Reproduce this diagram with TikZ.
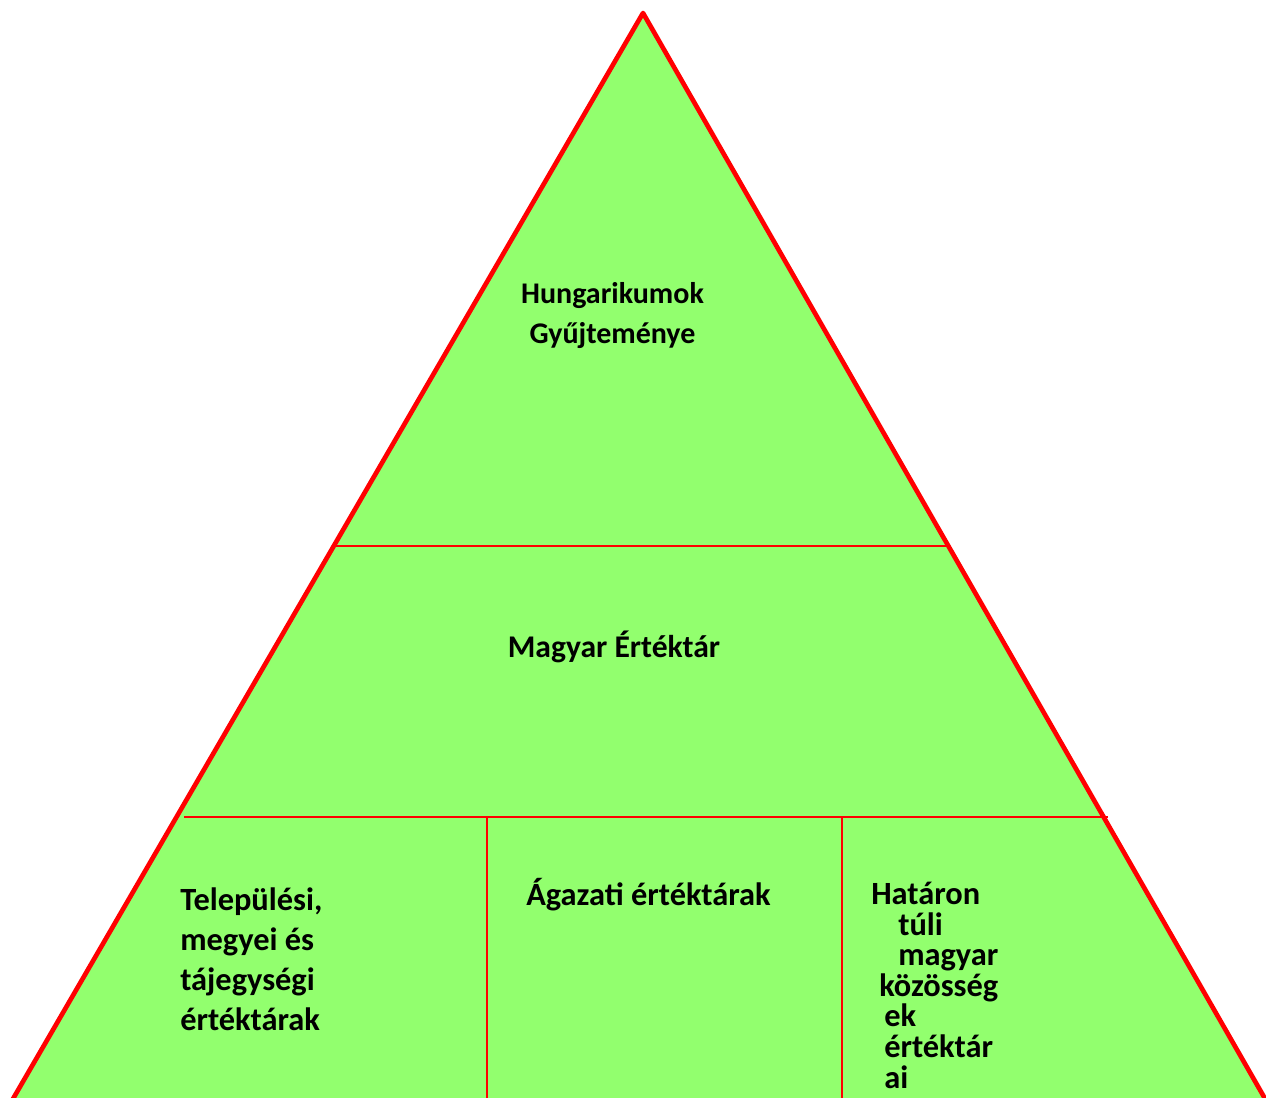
\documentclass[tikz,border=0pt]{standalone}
\usepackage{fontspec}
\setmainfont{Carlito}
\definecolor{pyrgreen}{RGB}{146,255,110}
\definecolor{pyrred}{RGB}{255,0,0}
\begin{document}
\begin{tikzpicture}[x=0.75pt,y=-0.75pt]
 \tikzset{level/.style={font=\fontsize{22.5}{30}\selectfont\bfseries,inner sep=0pt}}
 \tikzset{cell/.style={level,font=\fontsize{24.3}{30}\selectfont\bfseries}}
 \tikzset{divider/.style={draw=pyrred,line width=1.5pt}}
 \useasboundingbox (0,0) rectangle (1266,1097);
 \coordinate (apex) at (643,13);
 \coordinate (base l) at (6.5,1110);
 \coordinate (base r) at (1271.5,1110);
 \coordinate (top l) at (335,546);
 \coordinate (top r) at (950,546);
 \coordinate (mid l) at (184,817);
 \coordinate (mid r) at (1108,817);
 \coordinate (col 1) at (487,817);
 \coordinate (col 1 b) at (487,1100);
 \coordinate (col 2) at (842,817);
 \coordinate (col 2 b) at (842,1100);
 \fill[pyrgreen] (apex) -- (base r) -- (base l) -- cycle;
 \draw[divider] (top l) -- (top r);
 \draw[divider] (mid l) -- (mid r);
 \draw[divider] (col 1) -- (col 1 b);
 \draw[divider] (col 2) -- (col 2 b);
 \draw[pyrred,line width=3.5pt,line join=round] (apex) -- (base r) -- (base l) -- cycle;
 \node (hungarikum) at (612.5,343) [level,anchor=base,align=center] {Hungarikumok\\Gyűjteménye};
 \node (ertektar) at (614,657) [level,anchor=base,font=\fontsize{23.7}{30}\selectfont\bfseries] {Magyar Értéktár};
 \node (telepulesi) at (180,1030) [cell,anchor=base west,align=left] {Települési,\\megyei és\\tájegységi\\értéktárak};
 \node (agazati) at (526,905) [cell,anchor=base west] {Ágazati értéktárak};
 \node (hataron) at (871,1088) [cell,anchor=base west,align=left,font=\fontsize{24.3}{22.9}\selectfont\bfseries] {Határon\\\hspace*{20.25pt}túli\\\hspace*{20.25pt}magyar\\\hspace*{6pt}közösség\\\hspace*{9.75pt}ek\\\hspace*{9.75pt}értéktár\\\hspace*{9.75pt}ai};
\end{tikzpicture}
\end{document}
